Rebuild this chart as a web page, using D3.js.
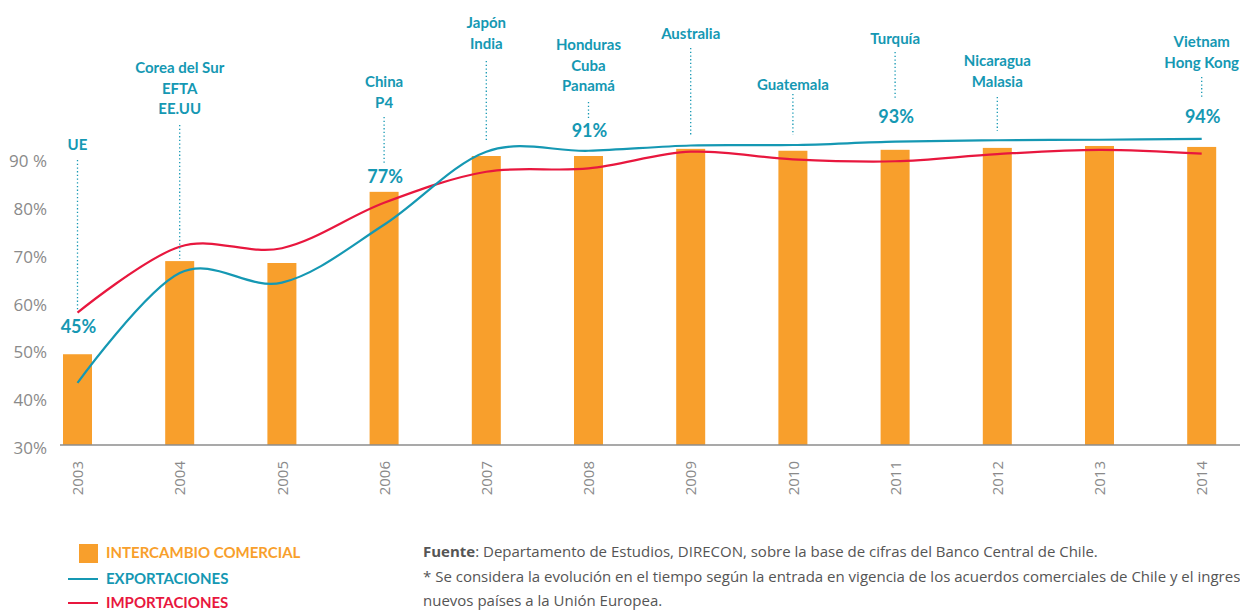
<!DOCTYPE html>
<html>
<head>
<meta charset="utf-8">
<script src="https://cdn.jsdelivr.net/npm/d3@7"></script>
<style>
    body { margin: 0; background: #fff; }
    svg { display: block; }
</style>
</head>
<body>
<div id="chart"></div>
<script>
// datos (% del total)
let years = ['2003', '2004', '2005', '2006', '2007', '2008', '2009', '2010', '2011', '2012', '2013', '2014'];
let intercambio = [49.0, 68.5, 68.1, 83.0, 90.5, 90.5, 92.0, 91.6, 91.8, 92.2, 92.6, 92.4];
let exportaciones = [43.0, 66.0, 64.0, 76.1, 91.4, 91.6, 92.7, 92.8, 93.5, 93.8, 93.9, 94.1];
let importaciones = [57.7, 71.5, 71.2, 80.7, 87.2, 87.9, 91.4, 89.8, 89.4, 90.9, 91.8, 91.0];

let yTicks = [30, 40, 50, 60, 70, 80, 90];
let yTickLabels = ['30%', '40%', '50%', '60%', '70%', '80%', '90 %'];

let acuerdos = [
    ['UE'],
    ['Corea del Sur', 'EFTA', 'EE.UU'],
    [],
    ['China', 'P4'],
    ['Japón', 'India'],
    ['Honduras', 'Cuba', 'Panamá'],
    ['Australia'],
    ['Guatemala'],
    ['Turquía'],
    ['Nicaragua', 'Malasia'],
    [],
    ['Vietnam', 'Hong Kong']
];
let hitos = ['45%', null, null, '77%', null, '91%', null, null, '93%', null, null, '94%'];

let legendLabels = ['INTERCAMBIO COMERCIAL', 'EXPORTACIONES', 'IMPORTACIONES'];
let fuenteLabel = 'Fuente';
let notas = [
    ': Departamento de Estudios, DIRECON, sobre la base de cifras del Banco Central de Chile.',
    '* Se considera la evolución en el tiempo según la entrada en vigencia de los acuerdos comerciales de Chile y el ingreso de',
    'nuevos países a la Unión Europea.'
];

let orange = '#f89f2c';
let teal = '#1598b3';
let red = '#e8173e';
let gray = '#8a8a8a';

let width = 1240;
let height = 610;

let svg = d3.select('#chart').append('svg')
    .attr('width', width)
    .attr('height', height)
    .style('font-family', 'Lato, "Open Sans", sans-serif');

let xScale = d3.scalePoint()
    .domain(years)
    .range([77.5, 1201.7]);

let yScale = d3.scaleLinear()
    .domain([30, 90])
    .range([445, 158.4]);

let barWidth = 29;

// barras
svg.append('g')
    .selectAll('rect').data(intercambio)
    .enter().append('rect')
    .attr('x', function (d, i) { return xScale(years[i]) - barWidth / 2; })
    .attr('y', function (d) { return yScale(d); })
    .attr('width', barWidth)
    .attr('height', function (d) { return yScale(30) - yScale(d); })
    .style('fill', orange);

// eje x
svg.append('line')
    .attr('x1', 60).attr('x2', width)
    .attr('y1', yScale(30)).attr('y2', yScale(30))
    .style('stroke', '#8c8c8c')
    .style('stroke-width', 1.3);

let hAxis = d3.axisBottom(xScale).tickSize(0);
let horizontalGuide = svg.append('g')
    .attr('transform', 'translate(0, ' + yScale(30) + ')');
hAxis(horizontalGuide);
horizontalGuide.select('.domain').remove();
horizontalGuide.selectAll('text')
    .attr('y', 0)
    .attr('dy', '0.35em')
    .attr('transform', 'translate(0, 16) rotate(-90)')
    .style('text-anchor', 'end')
    .style('font-family', '"Open Sans", sans-serif')
    .style('font-size', '15px')
    .style('fill', gray);

// eje y
let vAxis = d3.axisLeft(yScale)
    .tickValues(yTicks)
    .tickSize(0)
    .tickPadding(13)
    .tickFormat(function (d, i) { return yTickLabels[i]; });
let verticalGuide = svg.append('g')
    .attr('transform', 'translate(60, 3)');
vAxis(verticalGuide);
verticalGuide.select('.domain').remove();
verticalGuide.selectAll('text')
    .style('font-family', '"Open Sans", sans-serif')
    .style('font-size', '17px')
    .style('fill', gray);

// lineas
let line = function (values) {
    return d3.line()
        .x(function (d, i) { return xScale(years[i]); })
        .y(function (d) { return yScale(d); })
        .curve(d3.curveCatmullRom.alpha(0))(values);
};

svg.append('path')
    .attr('d', line(importaciones))
    .style('fill', 'none')
    .style('stroke', red)
    .style('stroke-width', 2.2);

svg.append('path')
    .attr('d', line(exportaciones))
    .style('fill', 'none')
    .style('stroke', teal)
    .style('stroke-width', 2.2);

// anotaciones (posicion vertical de cada nota)
let notaLayout = {
    '2003': { text: 145, top: 160, bottom: 310, pct: 327 },
    '2004': { text: 68, top: 125, bottom: 259 },
    '2006': { text: 82, top: 117, bottom: 165, pct: 177 },
    '2007': { text: 23, top: 61, bottom: 140 },
    '2008': { text: 45, top: 102, bottom: 120, pct: 131 },
    '2009': { text: 34, top: 48, bottom: 135 },
    '2010': { text: 85, top: 94, bottom: 135 },
    '2011': { text: 39, top: 52, bottom: 99, pct: 117 },
    '2012': { text: 61, top: 97, bottom: 131 },
    '2014': { text: 42, top: 77, bottom: 99, pct: 117 }
};
let lineGap = 20.6;

let notaGroup = svg.append('g');
years.forEach(function (year, i) {
    let lay = notaLayout[year];
    if (!lay) return;
    let x = xScale(year);

    acuerdos[i].forEach(function (name, j) {
        notaGroup.append('text')
            .attr('x', x)
            .attr('y', lay.text + j * lineGap)
            .attr('dy', '0.35em')
            .style('text-anchor', 'middle')
            .style('font-size', '15px')
            .style('font-weight', 'bold')
            .style('fill', teal)
            .text(name);
    });

    notaGroup.append('line')
        .attr('x1', x).attr('x2', x)
        .attr('y1', lay.top).attr('y2', lay.bottom)
        .style('stroke', teal)
        .style('stroke-width', 1.3)
        .style('stroke-dasharray', '1.3,2.4');

    if (hitos[i]) {
        notaGroup.append('text')
            .attr('x', x + 1)
            .attr('y', lay.pct)
            .attr('dy', '0.35em')
            .style('text-anchor', 'middle')
            .style('font-size', '18px')
            .style('font-weight', 'bold')
            .style('fill', teal)
            .text(hitos[i]);
    }
});

// leyenda
let legend = svg.append('g');
legend.append('rect')
    .attr('x', 79).attr('y', 544)
    .attr('width', 19).attr('height', 19)
    .style('fill', orange);
legend.append('line')
    .attr('x1', 68).attr('x2', 98)
    .attr('y1', 579).attr('y2', 579)
    .style('stroke', teal).style('stroke-width', 2);
legend.append('line')
    .attr('x1', 68).attr('x2', 98)
    .attr('y1', 603).attr('y2', 603)
    .style('stroke', red).style('stroke-width', 2);

let legendColors = [orange, teal, red];
let legendY = [553, 579, 603];
legend.selectAll('text').data(legendLabels)
    .enter().append('text')
    .attr('x', 106)
    .attr('y', function (d, i) { return legendY[i]; })
    .attr('dy', '0.35em')
    .style('font-size', '15px')
    .style('font-weight', 'bold')
    .style('fill', function (d, i) { return legendColors[i]; })
    .text(function (d) { return d; });

// fuente y nota
let nota = svg.append('g')
    .style('font-family', '"Liberation Sans Narrow", "Open Sans", sans-serif')
    .style('font-size', '15px')
    .style('fill', '#555');

let first = nota.append('text')
    .attr('x', 423).attr('y', 552).attr('dy', '0.35em');
first.append('tspan').style('font-weight', 'bold').text(fuenteLabel);
first.append('tspan').text(notas[0]);

nota.append('text')
    .attr('x', 423).attr('y', 577).attr('dy', '0.35em')
    .text(notas[1]);
nota.append('text')
    .attr('x', 423).attr('y', 601).attr('dy', '0.35em')
    .text(notas[2]);
</script>
</body>
</html>
